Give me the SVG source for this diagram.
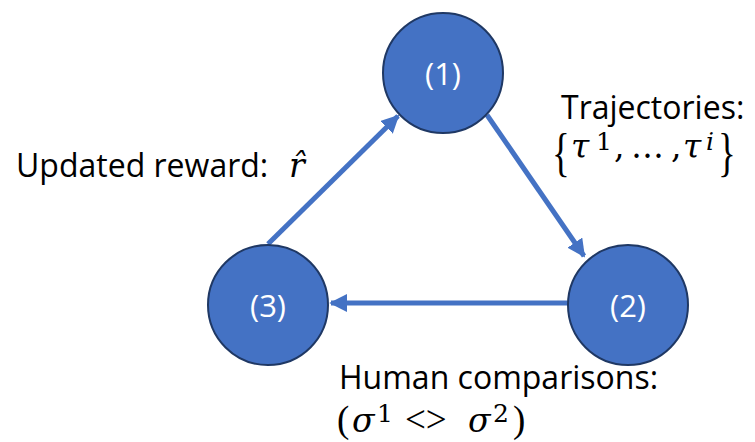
<svg xmlns="http://www.w3.org/2000/svg" width="755" height="442" viewBox="0 0 755 442">
  <style>
    .node { fill: #4472c4; stroke: #1f3864; stroke-width: 2; }
    .nlabel { fill: #ffffff; font-family: "Open Sans", "Noto Sans", sans-serif; font-size: 31px; text-anchor: middle; dominant-baseline: central; }
    .edge { stroke: #4472c4; stroke-width: 5; fill: none; }
    .lbl { fill: #000000; font-family: "Open Sans", "Noto Sans", sans-serif; font-size: 32px; }
    .math { fill: #000000; font-family: "DejaVu Serif", "Liberation Serif", serif; font-size: 33px; }
    .rm { font-family: "Liberation Serif", "DejaVu Serif", serif; font-size: 37px; }
    .it { font-style: italic; }
    .sup { font-size: 25px; }
  </style>
  <defs>
    <marker id="arrow" viewBox="0 0 10 10" refX="9" refY="5" markerWidth="3.6" markerHeight="3.6" orient="auto" markerUnits="strokeWidth">
      <path d="M0,0 L10,5 L0,10 z" fill="#4472c4"/>
    </marker>
  </defs>

  <g id="connectors">
    <line class="edge" x1="487" y1="115" x2="584" y2="256" marker-end="url(#arrow)"/>
    <line class="edge" x1="568" y1="303" x2="331" y2="303" marker-end="url(#arrow)"/>
    <line class="edge" x1="268" y1="244" x2="398" y2="116" marker-end="url(#arrow)"/>
  </g>

  <g id="node1">
    <circle class="node" cx="443" cy="73" r="60"/>
    <text class="nlabel" x="443" y="73">(1)</text>
  </g>
  <g id="node2">
    <circle class="node" cx="628" cy="305" r="60"/>
    <text class="nlabel" x="628" y="305">(2)</text>
  </g>
  <g id="node3">
    <circle class="node" cx="268" cy="305" r="60"/>
    <text class="nlabel" x="268" y="305">(3)</text>
  </g>

  <g id="labels">
    <text class="lbl" x="561" y="119">Trajectories:</text>
    <!-- set of trajectories, braces stretched vertically -->
    <text class="math rm" font-size="34" transform="translate(552,170) scale(1,1.42)">{</text>
    <text class="math" y="158"><tspan class="it" x="571">τ</tspan><tspan class="sup" x="596" y="150">1</tspan><tspan x="614" y="158">,</tspan><tspan x="631">…</tspan><tspan x="671">,</tspan><tspan class="it" x="683">τ</tspan><tspan class="sup it" x="706" y="150">i</tspan></text>
    <text class="math rm" font-size="34" transform="translate(718,170) scale(1,1.42)">}</text>

    <text class="lbl" x="16" y="177">Updated reward: <tspan class="math it" x="289">r̂</tspan></text>

    <text class="lbl" x="339" y="389">Human comparisons:</text>
    <text class="math" y="432"><tspan class="rm" x="337">(</tspan><tspan class="it" x="352">σ</tspan><tspan class="sup" x="377" y="422">1</tspan><tspan class="rm" x="405" y="432">&lt;&gt;</tspan><tspan class="it" x="468">σ</tspan><tspan class="sup" x="493" y="422">2</tspan><tspan class="rm" x="513" y="432">)</tspan></text>
  </g>
</svg>
